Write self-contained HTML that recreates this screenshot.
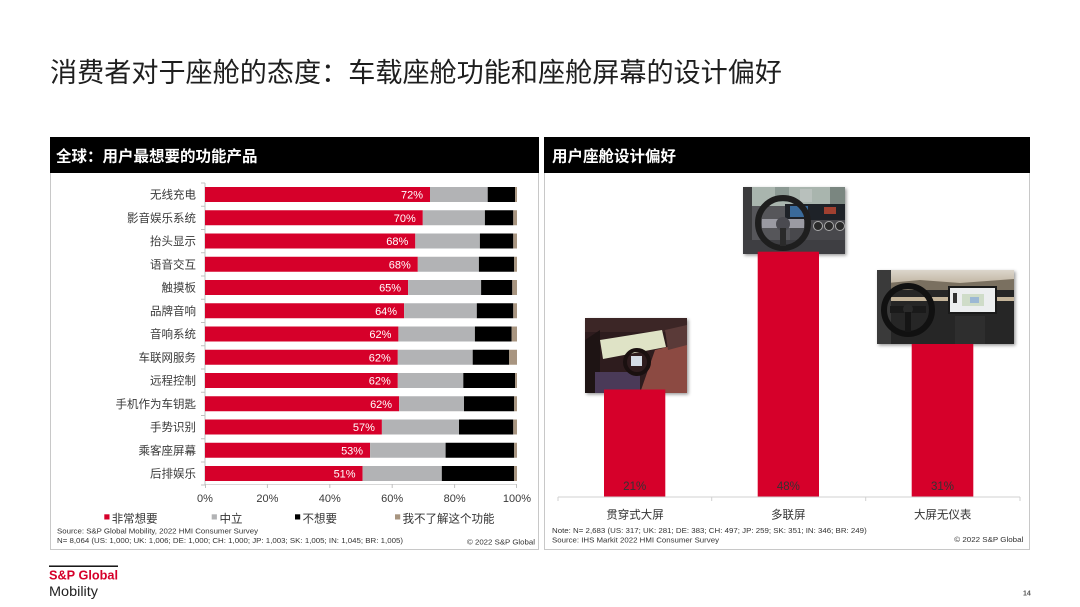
<!DOCTYPE html>
<html><head><meta charset="utf-8"><style>
html,body{margin:0;padding:0;background:#fff;}
svg{display:block;}
text{font-family:"Liberation Sans","Noto Sans CJK SC",sans-serif;}
</style></head><body>
<svg width="1080" height="607" viewBox="0 0 1080 607" xmlns="http://www.w3.org/2000/svg">
<defs>
<filter id="sh" x="-10%" y="-10%" width="125%" height="125%"><feDropShadow dx="1.5" dy="1.5" stdDeviation="1.5" flood-color="#000" flood-opacity="0.4"/></filter>
<clipPath id="c1"><rect x="585" y="318" width="102" height="75"/></clipPath>
<clipPath id="c2"><rect x="743" y="187" width="102" height="67"/></clipPath>
<clipPath id="c3"><rect x="877" y="270" width="137" height="74"/></clipPath>
<linearGradient id="sky3" x1="0" y1="0" x2="0" y2="1"><stop offset="0" stop-color="#dcd6cc"/><stop offset="1" stop-color="#b8aa94"/></linearGradient>
</defs>
<rect width="1080" height="607" fill="#fff"/>

<!-- Title -->
<text x="50" y="82" font-size="27" fill="#1e1e1e" textLength="732" lengthAdjust="spacingAndGlyphs">消费者对于座舱的态度：车载座舱功能和座舱屏幕的设计偏好</text>

<!-- Left panel -->
<rect x="50.5" y="137.5" width="488" height="412" fill="#fff" stroke="#c8c8c8" stroke-width="1"/>
<rect x="50" y="137" width="489" height="36" fill="#000"/>
<text x="56" y="161.4" font-size="15.5" font-weight="bold" fill="#fff">全球：用户最想要的功能产品</text>

<!-- axes -->
<line x1="205" y1="183" x2="205" y2="485" stroke="#c0c0c0" stroke-width="1"/>
<line x1="205" y1="484.5" x2="517" y2="484.5" stroke="#d8d8d8" stroke-width="1"/>
<g stroke="#c0c0c0" stroke-width="1">
<line x1="201" y1="183" x2="205" y2="183"/><line x1="201" y1="206.25" x2="205" y2="206.25"/><line x1="201" y1="229.5" x2="205" y2="229.5"/><line x1="201" y1="252.75" x2="205" y2="252.75"/><line x1="201" y1="276" x2="205" y2="276"/><line x1="201" y1="299.25" x2="205" y2="299.25"/><line x1="201" y1="322.5" x2="205" y2="322.5"/><line x1="201" y1="345.75" x2="205" y2="345.75"/><line x1="201" y1="369" x2="205" y2="369"/><line x1="201" y1="392.25" x2="205" y2="392.25"/><line x1="201" y1="415.5" x2="205" y2="415.5"/><line x1="201" y1="438.75" x2="205" y2="438.75"/><line x1="201" y1="462" x2="205" y2="462"/><line x1="201" y1="485" x2="205" y2="485"/>
<line x1="205.5" y1="484" x2="205.5" y2="488"/><line x1="267.4" y1="484" x2="267.4" y2="488"/><line x1="329.8" y1="484" x2="329.8" y2="488"/><line x1="392.2" y1="484" x2="392.2" y2="488"/><line x1="454.6" y1="484" x2="454.6" y2="488"/><line x1="516.5" y1="484" x2="516.5" y2="488"/>
</g>

<!-- bars -->
<g>
<rect x="205" y="187" width="225.0" height="15" fill="#d6002a"/><rect x="430.0" y="187" width="57.7" height="15" fill="#b2b3b5"/><rect x="487.7" y="187" width="27.4" height="15" fill="#000"/><rect x="515.1" y="187" width="1.9" height="15" fill="#a89580"/>
<rect x="205" y="210.25" width="217.8" height="15" fill="#d6002a"/><rect x="422.8" y="210.25" width="62.1" height="15" fill="#b2b3b5"/><rect x="484.9" y="210.25" width="28.4" height="15" fill="#000"/><rect x="513.3" y="210.25" width="3.7" height="15" fill="#a89580"/>
<rect x="205" y="233.5" width="210.3" height="15" fill="#d6002a"/><rect x="415.3" y="233.5" width="64.6" height="15" fill="#b2b3b5"/><rect x="479.9" y="233.5" width="33.4" height="15" fill="#000"/><rect x="513.3" y="233.5" width="3.7" height="15" fill="#a89580"/>
<rect x="205" y="256.75" width="212.8" height="15" fill="#d6002a"/><rect x="417.8" y="256.75" width="61.1" height="15" fill="#b2b3b5"/><rect x="478.9" y="256.75" width="35.3" height="15" fill="#000"/><rect x="514.2" y="256.75" width="2.8" height="15" fill="#a89580"/>
<rect x="205" y="280" width="203.1" height="15" fill="#d6002a"/><rect x="408.1" y="280" width="73.0" height="15" fill="#b2b3b5"/><rect x="481.1" y="280" width="31.2" height="15" fill="#000"/><rect x="512.3" y="280" width="4.7" height="15" fill="#a89580"/>
<rect x="205" y="303.25" width="199.1" height="15" fill="#d6002a"/><rect x="404.1" y="303.25" width="72.7" height="15" fill="#b2b3b5"/><rect x="476.8" y="303.25" width="36.5" height="15" fill="#000"/><rect x="513.3" y="303.25" width="3.7" height="15" fill="#a89580"/>
<rect x="205" y="326.5" width="193.4" height="15" fill="#d6002a"/><rect x="398.4" y="326.5" width="76.5" height="15" fill="#b2b3b5"/><rect x="474.9" y="326.5" width="36.8" height="15" fill="#000"/><rect x="511.7" y="326.5" width="5.3" height="15" fill="#a89580"/>
<rect x="205" y="349.75" width="192.8" height="15" fill="#d6002a"/><rect x="397.8" y="349.75" width="74.9" height="15" fill="#b2b3b5"/><rect x="472.7" y="349.75" width="36.5" height="15" fill="#000"/><rect x="509.2" y="349.75" width="7.8" height="15" fill="#a89580"/>
<rect x="205" y="373" width="192.8" height="15" fill="#d6002a"/><rect x="397.8" y="373" width="65.5" height="15" fill="#b2b3b5"/><rect x="463.3" y="373" width="51.8" height="15" fill="#000"/><rect x="515.1" y="373" width="1.9" height="15" fill="#a89580"/>
<rect x="205" y="396.25" width="194.1" height="15" fill="#d6002a"/><rect x="399.1" y="396.25" width="64.9" height="15" fill="#b2b3b5"/><rect x="464.0" y="396.25" width="50.2" height="15" fill="#000"/><rect x="514.2" y="396.25" width="2.8" height="15" fill="#a89580"/>
<rect x="205" y="419.5" width="176.9" height="15" fill="#d6002a"/><rect x="381.9" y="419.5" width="77.1" height="15" fill="#b2b3b5"/><rect x="459.0" y="419.5" width="54.3" height="15" fill="#000"/><rect x="513.3" y="419.5" width="3.7" height="15" fill="#a89580"/>
<rect x="205" y="442.75" width="165.1" height="15" fill="#d6002a"/><rect x="370.1" y="442.75" width="75.5" height="15" fill="#b2b3b5"/><rect x="445.6" y="442.75" width="68.6" height="15" fill="#000"/><rect x="514.2" y="442.75" width="2.8" height="15" fill="#a89580"/>
<rect x="205" y="466" width="157.6" height="15" fill="#d6002a"/><rect x="362.6" y="466" width="79.2" height="15" fill="#b2b3b5"/><rect x="441.8" y="466" width="72.4" height="15" fill="#000"/><rect x="514.2" y="466" width="2.8" height="15" fill="#a89580"/>
</g>

<!-- bar value labels -->
<g font-size="11" fill="#fff" text-anchor="end">
<text x="423" y="198.5">72%</text>
<text x="415.8" y="221.75">70%</text>
<text x="408.3" y="245">68%</text>
<text x="410.8" y="268.25">68%</text>
<text x="401.1" y="291.5">65%</text>
<text x="397.1" y="314.75">64%</text>
<text x="391.4" y="338">62%</text>
<text x="390.8" y="361.25">62%</text>
<text x="390.8" y="384.5">62%</text>
<text x="392.1" y="407.75">62%</text>
<text x="374.9" y="431">57%</text>
<text x="363.1" y="454.25">53%</text>
<text x="355.6" y="477.5">51%</text>
</g>

<!-- category labels -->
<g font-size="11.5" fill="#3a3a3a" text-anchor="end">
<text x="196" y="198.7">无线充电</text>
<text x="196" y="221.95">影音娱乐系统</text>
<text x="196" y="245.2">抬头显示</text>
<text x="196" y="268.45">语音交互</text>
<text x="196" y="291.7">触摸板</text>
<text x="196" y="314.95">品牌音响</text>
<text x="196" y="338.2">音响系统</text>
<text x="196" y="361.45">车联网服务</text>
<text x="196" y="384.7">远程控制</text>
<text x="196" y="407.95">手机作为车钥匙</text>
<text x="196" y="431.2">手势识别</text>
<text x="196" y="454.45">乘客座屏幕</text>
<text x="196" y="477.7">后排娱乐</text>
</g>

<!-- x labels -->
<g font-size="11" fill="#3a3a3a" text-anchor="middle">
<text x="205" y="502">0%</text>
<text x="267.4" y="502">20%</text>
<text x="329.8" y="502">40%</text>
<text x="392.2" y="502">60%</text>
<text x="454.6" y="502">80%</text>
<text x="517" y="502">100%</text>
</g>

<!-- legend -->
<rect x="104.3" y="514.3" width="5.2" height="5.2" fill="#d6002a"/>
<rect x="211.7" y="514.3" width="5.2" height="5.2" fill="#b2b3b5"/>
<rect x="295" y="514.3" width="5.2" height="5.2" fill="#000"/>
<rect x="395" y="514.3" width="5.2" height="5.2" fill="#a89580"/>
<g font-size="11.5" fill="#333">
<text x="111.7" y="522.4">非常想要</text>
<text x="219.5" y="522.4">中立</text>
<text x="302.5" y="522.4">不想要</text>
<text x="402.5" y="522.4">我不了解这个功能</text>
</g>

<!-- left notes -->
<g font-size="7" fill="#333">
<text x="57" y="533.5" textLength="201" lengthAdjust="spacingAndGlyphs">Source: S&amp;P Global Mobility, 2022 HMI Consumer Survey</text>
<text x="57" y="543" textLength="346" lengthAdjust="spacingAndGlyphs">N= 8,064 (US: 1,000; UK: 1,006; DE: 1,000; CH: 1,000; JP: 1,003; SK: 1,005; IN: 1,045; BR: 1,005)</text>
<text x="535" y="544.5" text-anchor="end" textLength="68" lengthAdjust="spacingAndGlyphs">© 2022 S&amp;P Global</text>
</g>

<!-- Right panel -->
<rect x="544.5" y="137.5" width="485" height="412" fill="#fff" stroke="#c8c8c8" stroke-width="1"/>
<rect x="544" y="137" width="486" height="36" fill="#000"/>
<text x="552" y="161.4" font-size="15.5" font-weight="bold" fill="#fff">用户座舱设计偏好</text>

<!-- Image 1 -->
<g filter="url(#sh)"><rect x="585" y="318" width="102" height="75" fill="#2b1a1c"/></g>
<g clip-path="url(#c1)">
<rect x="585" y="318" width="102" height="75" fill="#2e1c1e"/>
<rect x="585" y="318" width="102" height="14" fill="#3c2626"/>
<polygon points="585,340 600,330 600,393 585,393" fill="#1e1414"/>
<polygon points="600,340 662,330 666,347 603,359" fill="#dfe3c6"/>
<polygon points="655,350 687,342 687,393 640,393" fill="#8c4a42"/>
<polygon points="665,330 687,325 687,345 668,350" fill="#5a3a38"/>
<rect x="595" y="372" width="45" height="21" fill="#4a3a58"/>
<circle cx="637" cy="362" r="12" fill="none" stroke="#1a1010" stroke-width="4"/>
<rect x="631" y="356" width="11" height="10" fill="#d4dce6"/>
</g>

<!-- Image 2 -->
<g filter="url(#sh)"><rect x="743" y="187" width="102" height="67" fill="#555"/></g>
<g clip-path="url(#c2)">
<rect x="743" y="187" width="102" height="67" fill="#56565a"/>
<rect x="743" y="187" width="102" height="19" fill="#a9b5ae"/>
<rect x="775" y="187" width="14" height="15" fill="#8c9a94"/>
<rect x="800" y="189" width="12" height="13" fill="#b8c0bc"/>
<rect x="830" y="187" width="15" height="18" fill="#7a8680"/>
<rect x="743" y="187" width="9" height="67" fill="#3a3a3c"/>
<rect x="785" y="204" width="60" height="16" fill="#1e2228"/>
<rect x="790" y="206" width="18" height="11" fill="#3a6a9a"/>
<rect x="824" y="207" width="12" height="7" fill="#a04030"/>
<rect x="790" y="220" width="55" height="34" fill="#48484c"/>
<circle cx="818" cy="226" r="4.5" fill="#2a2a2a" stroke="#aaa" stroke-width="1"/>
<circle cx="829" cy="226" r="4.5" fill="#2a2a2a" stroke="#aaa" stroke-width="1"/>
<circle cx="840" cy="226" r="4.5" fill="#2a2a2a" stroke="#aaa" stroke-width="1"/>
<rect x="743" y="240" width="102" height="14" fill="#3e3e42"/>
<circle cx="783" cy="223" r="25" fill="none" stroke="#1e1e1e" stroke-width="6"/>
<rect x="762" y="219" width="42" height="9" fill="#9a9aa2"/>
<circle cx="783" cy="224" r="7" fill="#4a4a50"/>
<rect x="780" y="228" width="6" height="18" fill="#2a2a2a"/>
</g>

<!-- Image 3 -->
<g filter="url(#sh)"><rect x="877" y="270" width="137" height="74" fill="#222"/></g>
<g clip-path="url(#c3)">
<rect x="877" y="270" width="137" height="74" fill="#232323"/>
<rect x="877" y="270" width="137" height="18" fill="url(#sky3)"/>
<polygon points="877,284 920,280 960,283 1014,279 1014,291 877,291" fill="#7a7060"/>
<rect x="877" y="290" width="137" height="54" fill="#262626"/>
<rect x="877" y="297" width="137" height="4" fill="#c4b49a"/>
<rect x="877" y="270" width="14" height="74" fill="#3a3a3a"/>
<rect x="948" y="286" width="49" height="28" fill="#1a1a1a"/>
<rect x="950" y="288" width="45" height="24" fill="#eceeef"/>
<rect x="962" y="294" width="22" height="12" fill="#cfdcc8"/>
<rect x="970" y="297" width="9" height="6" fill="#9cb8d4"/>
<rect x="953" y="293" width="4" height="10" fill="#333"/>
<rect x="955" y="316" width="30" height="28" fill="#2e2e2e"/>
<circle cx="908" cy="310" r="24" fill="none" stroke="#111" stroke-width="6"/>
<rect x="890" y="306" width="36" height="7" fill="#1a1a1a"/>
<circle cx="908" cy="309" r="5" fill="#2a2a2a"/>
<rect x="905" y="312" width="6" height="20" fill="#151515"/>
</g>

<!-- right bars -->
<rect x="604" y="389.5" width="61.3" height="107.2" fill="#d6002a"/>
<rect x="757.7" y="251.7" width="61.3" height="245" fill="#d6002a"/>
<rect x="911.7" y="344" width="61.6" height="152.7" fill="#d6002a"/>

<line x1="558" y1="497" x2="1020" y2="497" stroke="#d0d0d0" stroke-width="1"/>
<g stroke="#d0d0d0" stroke-width="1">
<line x1="558" y1="497" x2="558" y2="501"/><line x1="711.7" y1="497" x2="711.7" y2="501"/><line x1="865.7" y1="497" x2="865.7" y2="501"/><line x1="1020" y1="497" x2="1020" y2="501"/>
</g>

<g font-size="11.5" fill="#333" text-anchor="middle">
<text x="634.7" y="490">21%</text>
<text x="788.4" y="490">48%</text>
<text x="942.5" y="490">31%</text>
<text x="635" y="518.7">贯穿式大屏</text>
<text x="788.3" y="518.7">多联屏</text>
<text x="942.7" y="518.7">大屏无仪表</text>
</g>

<g font-size="7" fill="#333">
<text x="552" y="533" textLength="314.7" lengthAdjust="spacingAndGlyphs">Note: N= 2,683 (US: 317; UK: 281; DE: 383; CH: 497; JP: 259; SK: 351; IN: 346; BR: 249)</text>
<text x="552" y="542.5" textLength="167" lengthAdjust="spacingAndGlyphs">Source: IHS Markit 2022 HMI Consumer Survey</text>
<text x="1023.3" y="541.8" text-anchor="end" textLength="69" lengthAdjust="spacingAndGlyphs">© 2022 S&amp;P Global</text>
</g>

<!-- Logo -->
<rect x="49" y="565.5" width="69" height="1.4" fill="#000"/>
<text x="49" y="579.7" font-size="13" font-weight="bold" fill="#d6002a" textLength="69" lengthAdjust="spacingAndGlyphs">S&amp;P Global</text>
<text x="49" y="596" font-size="14" fill="#222" textLength="49" lengthAdjust="spacingAndGlyphs">Mobility</text>

<text x="1023" y="595.5" font-size="7" font-weight="bold" fill="#555">14</text>
</svg>
</body></html>
